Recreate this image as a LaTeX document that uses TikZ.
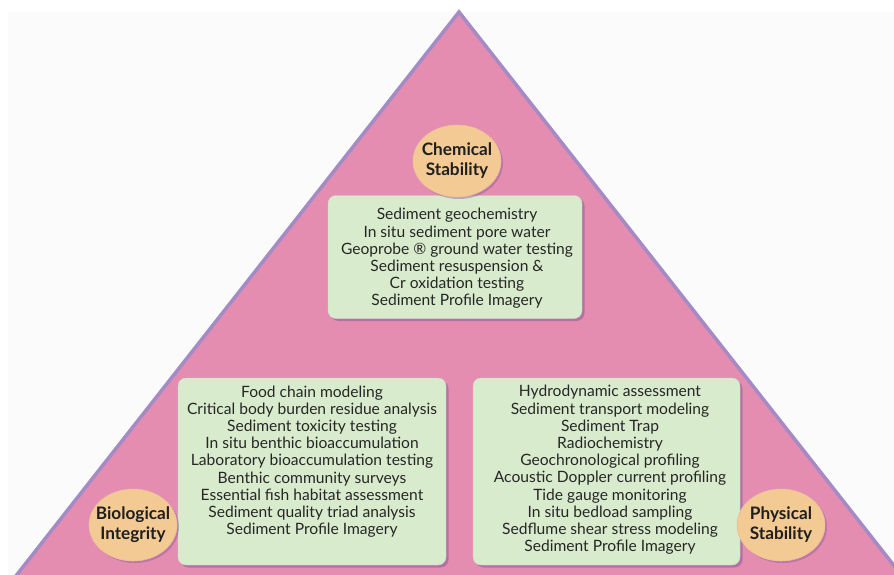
\documentclass[tikz,border=0pt]{standalone}
\usepackage{fontspec}
\setmainfont{Lato}
\usetikzlibrary{shapes.geometric,shadows}
\definecolor{pinkfill}{HTML}{E58DB1}
\definecolor{purpleedge}{HTML}{A48BC6}
\definecolor{boxgreen}{HTML}{D9EBCD}
\definecolor{peach}{HTML}{F3C994}
\definecolor{shadowcol}{HTML}{8E5A9A}
\definecolor{bggray}{HTML}{FBFBFB}
\definecolor{txt}{HTML}{262626}
\tikzset{
  listbox/.style={draw=boxgreen!80!black!60, line width=0.4pt, fill=boxgreen, rounded corners=8pt,
    drop shadow={shadow xshift=2.5pt, shadow yshift=-2.5pt, fill=shadowcol, opacity=0.55}},
  listtext/.style={align=center, text=txt, inner sep=0pt, font=\fontsize{15.6}{17.2}\selectfont},
  oval/.style={ellipse, fill=peach, draw=peach!85!purpleedge, line width=0.6pt, inner sep=0pt,
    minimum width=88pt, minimum height=72pt,
    drop shadow={shadow xshift=2pt, shadow yshift=-2pt, fill=shadowcol, opacity=0.45}},
  ovaltext/.style={align=center, inner sep=0pt, text=black!88,
    font=\fontsize{17.2}{20}\selectfont\bfseries},
  tri/.style={fill=pinkfill, draw=purpleedge, line width=3.5pt, line join=miter}
}
\begin{document}
\begin{tikzpicture}[x=1pt,y=-1pt]
\useasboundingbox (0,0) rectangle (894,575);
\fill[bggray] (8,12) rectangle (894,575);
\begin{scope}
\clip (0,0) rectangle (894,575);
\coordinate (apex) at (459,12);
\coordinate (bright) at (921,600);
\coordinate (bleft) at (-3,600);
\draw[tri] (apex) -- (bright) -- (bleft) -- cycle;
\end{scope}

% boxes
\node[listbox, minimum width=254pt, minimum height=123pt] (chembox) at (455,257) {};
\node[listbox, minimum width=268pt, minimum height=187pt] (biobox) at (312,471.5) {};
\node[listbox, minimum width=267pt, minimum height=187pt] (physbox) at (606.5,471.5) {};

\node[listtext] (chemtext) at (457,258.5) {Sediment geochemistry\\In situ sediment pore water\\Geoprobe ® ground water testing\\Sediment resuspension \&\\Cr oxidation testing\\Sediment Profile Imagery};
\node[listtext] (biotext) at (312,461.5) {Food chain modeling\\Critical body burden residue analysis\\Sediment toxicity testing\\In situ benthic bioaccumulation\\Laboratory bioaccumulation testing\\Benthic community surveys\\Essential fish habitat assessment\\Sediment quality triad analysis\\Sediment Profile Imagery};
\node[listtext] (phystext) at (610,470) {Hydrodynamic assessment\\Sediment transport modeling\\Sediment Trap\\Radiochemistry\\Geochronological profiling\\Acoustic Doppler current profiling\\Tide gauge monitoring\\In situ bedload sampling\\Sedflume shear stress modeling\\Sediment Profile Imagery};

% ovals
\node[oval] (chem) at (457,161) {};
\node[ovaltext] (chemlabel) at (chem) {Chemical\\Stability};
\node[oval] (bio) at (133,525) {};
\node[ovaltext] (biolabel) at (bio) {Biological\\Integrity};
\node[oval] (phys) at (781,525) {};
\node[ovaltext] (physlabel) at (phys) {Physical\\Stability};
\end{tikzpicture}
\end{document}
